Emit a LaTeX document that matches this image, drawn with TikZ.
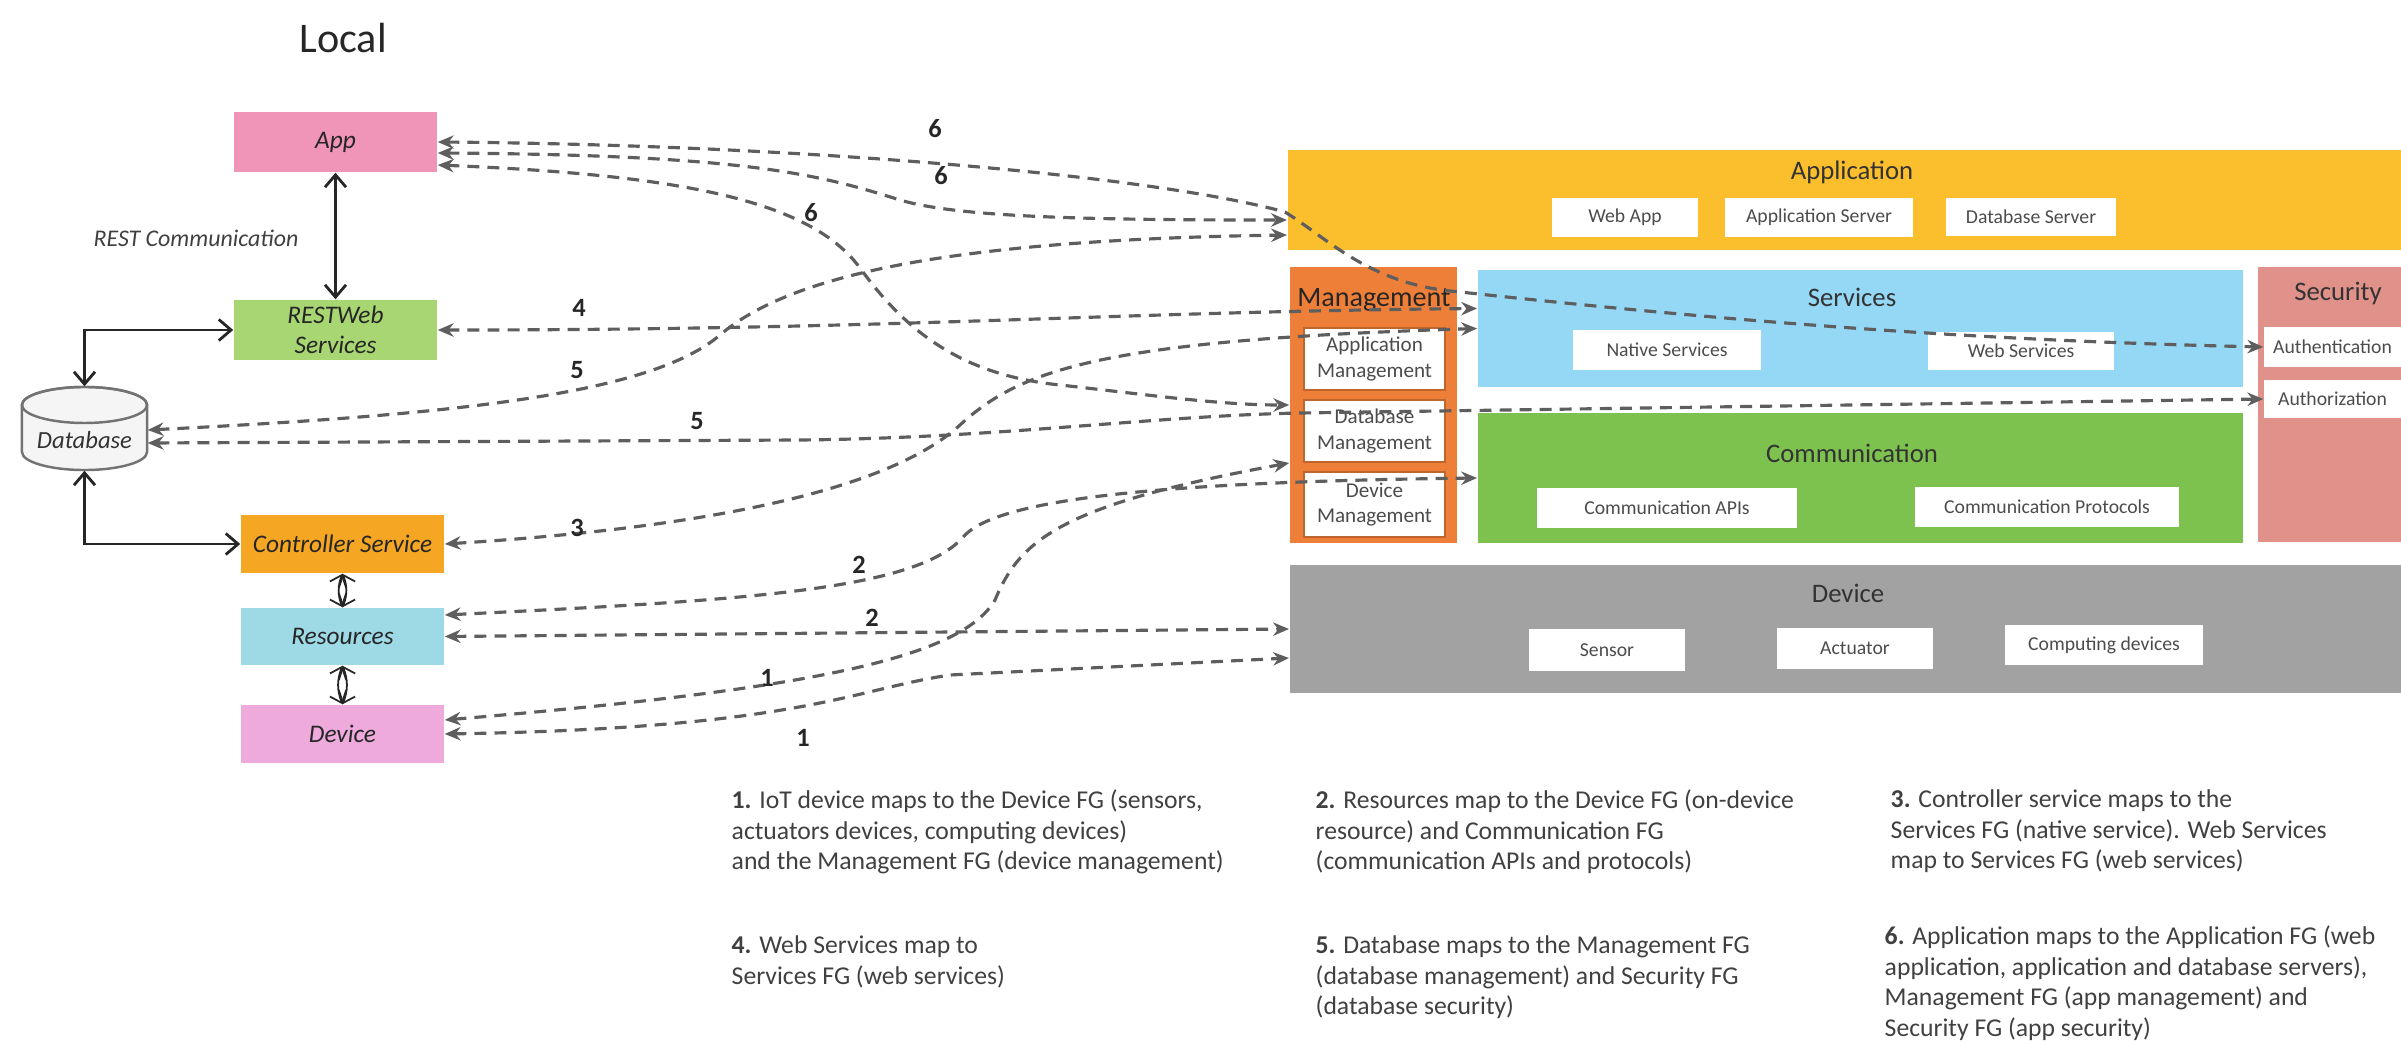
\documentclass[tikz,border=0pt]{standalone}
\usepackage{fontspec}
\setmainfont{Carlito}
\usetikzlibrary{arrows.meta,calc}
\definecolor{cApp}{HTML}{F094B8}
\definecolor{cRest}{HTML}{A8D672}
\definecolor{cCtrl}{HTML}{F5A623}
\definecolor{cRes}{HTML}{9ED9E6}
\definecolor{cDevL}{HTML}{EEAADB}
\definecolor{cAppL}{HTML}{FBBF2E}
\definecolor{cMgmt}{HTML}{EE7F38}
\definecolor{cSvc}{HTML}{95D8F5}
\definecolor{cSec}{HTML}{E0918A}
\definecolor{cComm}{HTML}{7DC24F}
\definecolor{cDev}{HTML}{A2A2A2}
\definecolor{dashc}{HTML}{5E5E5E}
\definecolor{dbfill}{HTML}{F5F5F5}
% box from pixel corners: name, style, x1, y1, x2, y2, text
\newcommand\pxbox[7]{%
  \pgfmathsetmacro\pxbw{(#5-#3)/100}%
  \pgfmathsetmacro\pxbh{(#6-#4)/100}%
  \node[#2, minimum width=\pxbw cm, minimum height=\pxbh cm, anchor=center] (#1) at ({(#3+#5)/2},{(#4+#6)/2}) {#7};}
\begin{document}
\begin{tikzpicture}[x=0.01cm,y=-0.01cm,
  lbox/.style={inner sep=0pt, font=\fontsize{7.2}{8.6}\selectfont\itshape, align=center, text=black!85},
  band/.style={inner sep=0pt},
  ttl/.style={font=\fontsize{7.6}{9}\selectfont, text=black!80},
  wbox/.style={fill=white, inner sep=0pt, font=\fontsize{5.6}{6.6}\selectfont, text=black!70, align=center},
  mbox/.style={fill=white, draw=cMgmt!80!black, line width=0.6pt, inner sep=0pt, font=\fontsize{6}{7.2}\selectfont, text=black!70, align=center},
  dl/.style={draw=dashc, line width=0.9pt, dash pattern=on 3.4pt off 2.3pt, {Stealth[length=4.5pt,width=3.8pt]}-{Stealth[length=4.5pt,width=3.8pt]}},
  num/.style={font=\fontsize{7.5}{8}\selectfont\bfseries, text=black!85},
  sl/.style={draw=black!85, line width=0.8pt, {Straight Barb[length=3.5pt,width=6pt]}-{Straight Barb[length=3.5pt,width=6pt]}},
  thinsl/.style={draw=black!85, line width=0.5pt, {Straight Barb[length=3pt,width=5pt]}-{Straight Barb[length=3pt,width=5pt]}},
  captxt/.style={font=\fontsize{7.3}{8.7}\selectfont, align=left, inner sep=0pt, text=black!75, anchor=north west}
]
\useasboundingbox (0,0) rectangle (2401,1046);

% ---------- left side ----------
\node[font=\fontsize{12}{14}\selectfont, text=black!85] (local) at (343,38) {Local};
\pxbox{app}{lbox, fill=cApp}{234}{112}{437}{172}{App}
\pxbox{rest}{lbox, fill=cRest}{234}{300}{437}{360}{RESTWeb\\Services}
\node[font=\fontsize{6.8}{8}\selectfont\itshape, text=black!75] (restc) at (196,238) {REST Communication};
\pxbox{db}{inner sep=0pt}{22}{387}{147}{470}{}
\begin{scope}[shift={(84.5,428.5)}, x=1cm, y=1cm]
  \path[fill=dbfill, draw=black!55, line width=0.7pt] (-0.625,0.235) -- (-0.625,-0.235)
    arc[start angle=180, end angle=360, x radius=0.625, y radius=0.18] -- (0.625,0.235)
    arc[start angle=0, end angle=180, x radius=0.625, y radius=0.18] -- cycle;
  \draw[black!55, line width=0.7pt] (0,0.235) ellipse [x radius=0.625, y radius=0.18];
\end{scope}
\node[font=\fontsize{7}{8}\selectfont\itshape, text=black!80] (dbtext) at (84.5,440) {Database};
\pxbox{ctrl}{lbox, fill=cCtrl}{241}{515}{444}{573}{Controller Service}
\pxbox{res}{lbox, fill=cRes}{241}{608}{444}{665}{Resources}
\pxbox{dev}{lbox, fill=cDevL}{241}{705}{444}{763}{Device}

\draw[sl] (app.south) -- (rest.north);
\draw[sl] (rest.west) -| (db.north);
\draw[sl] (db.south) |- (ctrl.west);
\draw[thinsl] (ctrl.south) to[bend left=22] (res.north);
\draw[thinsl] (ctrl.south) to[bend right=22] (res.north);
\draw[thinsl] (res.south) to[bend left=22] (dev.north);
\draw[thinsl] (res.south) to[bend right=22] (dev.north);

% ---------- right side ----------
\pxbox{applayer}{band, fill=cAppL}{1288}{150}{2401}{250}{}
\node[ttl] (apptitle) at (1852,172) {Application};
\pxbox{webapp}{wbox}{1552}{198}{1698}{237}{Web App}
\pxbox{appserver}{wbox}{1725}{198}{1913}{237}{Application Server}
\pxbox{dbserver}{wbox}{1946}{198}{2116}{236}{Database Server}

\pxbox{mgmt}{band, fill=cMgmt}{1290}{267}{1457}{543}{}
\node[font=\fontsize{8}{9}\selectfont, text=black!85] (mgmttitle) at (1374,300) {Management};
\pxbox{appmgmt}{mbox}{1304}{328}{1445}{390}{Application\\Management}
\pxbox{dbmgmt}{mbox}{1304}{400}{1445}{462}{Database\\Management}
\pxbox{devmgmt}{mbox}{1304}{472}{1445}{537}{Device\\Management}

\pxbox{services}{band, fill=cSvc}{1478}{270}{2243}{387}{}
\node[ttl] (svctitle) at (1852,297) {Services};
\pxbox{native}{wbox}{1573}{330}{1761}{370}{Native Services}
\pxbox{websvc}{wbox}{1928}{332}{2114}{370}{Web Services}

\pxbox{security}{band, fill=cSec}{2258}{267}{2401}{542}{}
\node[ttl] (sectitle) at (2338,293) {Security};
\pxbox{authn}{wbox}{2264}{327}{2401}{367}{Authentication}
\pxbox{authz}{wbox}{2264}{380}{2401}{418}{Authorization}

\pxbox{comm}{band, fill=cComm}{1478}{413}{2243}{543}{}
\node[ttl] (commtitle) at (1852,453) {Communication};
\pxbox{commapi}{wbox}{1537}{488}{1797}{528}{Communication APIs}
\pxbox{commproto}{wbox}{1915}{487}{2179}{527}{Communication Protocols}

\pxbox{devlayer}{band, fill=cDev}{1290}{565}{2401}{693}{}
\node[ttl] (devtitle) at (1848,593) {Device};
\pxbox{sensor}{wbox}{1529}{629}{1685}{671}{Sensor}
\pxbox{actuator}{wbox}{1777}{628}{1933}{669}{Actuator}
\pxbox{computing}{wbox}{2005}{625}{2203}{665}{Computing devices}

% ---------- dashed mappings ----------
\draw[dl] (app.east) .. controls (800,145) and (1150,175) .. (1285,212)
  .. controls (1330,240) and (1370,285) .. (1460,292)
  .. controls (1700,318) and (1950,340) .. (authn.west);
\draw[dl] ($(app.east)+(0,11)$) .. controls (750,155) and (820,175) .. (900,200)
  .. controls (960,218) and (1100,220) .. ($(applayer.west)+(0,20)$);
\draw[dl] ($(app.east)+(0,23)$) .. controls (680,175) and (810,200) .. (860,268)
  .. controls (905,330) and (960,375) .. (1060,385)
  .. controls (1150,395) and (1220,405) .. (mgmt.west);
\draw[dl] ($(db.east)+(0,1.5)$) .. controls (450,415) and (650,395) .. (720,335)
  .. controls (790,275) and (950,240) .. ($(applayer.west)+(0,35)$);
\draw[dl] (rest.east) .. controls (900,330) and (1100,312) .. ($(services.west)+(0,-20)$);
\draw[dl] (ctrl.east) .. controls (750,525) and (900,480) .. (960,425)
  .. controls (1020,370) and (1100,340) .. (services.west);
\draw[dl] ($(db.east)+(0,14.5)$) -- (800,440) .. controls (1000,438) and (1150,416) .. (1300,413) -- (authz.west);
\draw[dl] ($(res.east)+(0,-21.5)$) .. controls (750,600) and (920,590) .. (965,535)
  .. controls (1000,500) and (1150,482) .. (comm.west);
\draw[dl] ($(dev.east)+(0,-14)$) .. controls (800,690) and (960,660) .. (995,600)
  .. controls (1020,540) and (1060,505) .. ($(mgmt.west)+(0,58)$);
\draw[dl] (res.east) -- (devlayer.west);
\draw[dl] (dev.east) .. controls (800,728) and (850,690) .. (950,675) -- ($(devlayer.west)+(0,29)$);

% ---------- numbers ----------
\node[num] (n6a) at (935,129) {6};
\node[num] (n6b) at (941,176) {6};
\node[num] (n6c) at (811,213) {6};
\node[num] (n4) at (579,308) {4};
\node[num] (n5a) at (577,370) {5};
\node[num] (n5b) at (697,421) {5};
\node[num] (n3) at (577,528) {3};
\node[num] (n2a) at (859,565) {2};
\node[num] (n2b) at (872,618) {2};
\node[num] (n1a) at (767,678) {1};
\node[num] (n1b) at (803,738) {1};

% ---------- captions ----------
\node[captxt] (cap1) at (731,789) {\textbf{1.} IoT device maps to the Device FG (sensors,\\actuators devices, computing devices)\\and the Management FG (device management)};
\node[captxt] (cap2) at (1315,789) {\textbf{2.} Resources map to the Device FG (on-device\\resource) and Communication FG\\ (communication APIs and protocols)};
\node[captxt] (cap3) at (1890,789) {\textbf{3.} Controller service maps to the\\Services FG (native service). Web Services\\map to Services FG (web services)};
\node[captxt] (cap4) at (731,935) {\textbf{4.} Web Services map to\\Services FG (web services)};
\node[captxt] (cap5) at (1315,935) {\textbf{5.} Database maps to the Management FG\\(database management) and Security FG\\(database security)};
\node[captxt] (cap6) at (1884,925) {\textbf{6.} Application maps to the Application FG (web\\application, application and database servers),\\Management FG (app management) and\\Security FG (app security)};
\end{tikzpicture}
\end{document}
